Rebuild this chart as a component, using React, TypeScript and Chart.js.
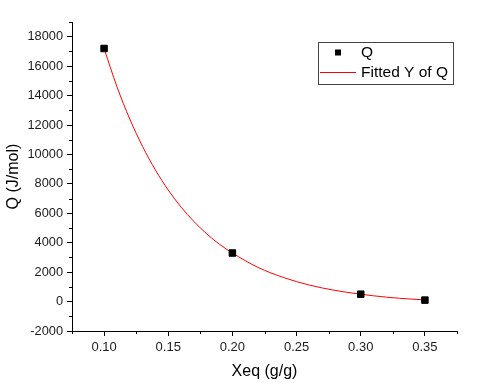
import React, { useEffect, useRef } from "react";
import { Chart, registerables } from "chart.js";

Chart.register(...registerables);

// Measured data points
const xeq = [0.1, 0.2, 0.3, 0.35];
const qValues = [17200, 3300, 500, 100];

// Fitted curve
const fitX = [0.1, 0.11, 0.12, 0.13, 0.14, 0.15, 0.16, 0.17, 0.18, 0.19, 0.2, 0.22, 0.24, 0.26, 0.28, 0.3, 0.32, 0.34, 0.35];
const fitY = [17200, 14610, 12410, 10540, 8940, 7580, 6420, 5440, 4600, 3890, 3300, 2320, 1630, 1120, 760, 500, 300, 165, 113];

// Tick values
const xTicks = [0.1, 0.15, 0.2, 0.25, 0.3, 0.35];
const yTicks = [-2000, 0, 2000, 4000, 6000, 8000, 10000, 12000, 14000, 16000, 18000];
const xMinor = [0.075, 0.125, 0.175, 0.225, 0.275, 0.325, 0.375];
const yMinor = [-1000, 1000, 3000, 5000, 7000, 9000, 11000, 13000, 15000, 17000, 19000];

const xTitle = "Xeq (g/g)";
const yTitle = "Q (J/mol)";
const legendLabels = ["Q", "Fitted Y of Q"];

const FONT = "'Liberation Sans', Arial, sans-serif";

const minorTicks = {
  id: "minorTicks",
  afterDraw(chart: any) {
    const ctx = chart.ctx;
    const xs = chart.scales.x;
    const ys = chart.scales.y;
    ctx.save();
    ctx.strokeStyle = "#000";
    ctx.lineWidth = 1;
    ctx.beginPath();
    for (const v of xMinor) {
      const px = Math.round(xs.getPixelForValue(v)) + 0.5;
      ctx.moveTo(px, ys.bottom);
      ctx.lineTo(px, ys.bottom + 3);
    }
    for (const v of yMinor) {
      const py = Math.round(ys.getPixelForValue(v)) + 0.5;
      ctx.moveTo(xs.left, py);
      ctx.lineTo(xs.left - 3, py);
    }
    ctx.stroke();
    ctx.restore();
  },
};

const customLegend = {
  id: "customLegend",
  afterDraw(chart: any) {
    const ctx = chart.ctx;
    ctx.save();
    const bx = 318, by = 42, bw = 135, bh = 42;
    ctx.fillStyle = "#fff";
    ctx.fillRect(bx, by, bw, bh);
    ctx.strokeStyle = "#444";
    ctx.lineWidth = 1;
    ctx.strokeRect(bx + 0.5, by + 0.5, bw, bh);
    ctx.fillStyle = "#000";
    ctx.fillRect(335, 49.5, 6, 6);
    ctx.strokeStyle = "#ff0000";
    ctx.beginPath();
    ctx.moveTo(320, 72.5);
    ctx.lineTo(356, 72.5);
    ctx.stroke();
    ctx.fillStyle = "#000";
    ctx.font = `15.5px ${FONT}`;
    ctx.textBaseline = "middle";
    ctx.textAlign = "left";
    ctx.fillText(legendLabels[0], 361, 53);
    ctx.fillText(legendLabels[1], 361, 73);
    ctx.restore();
  },
};

export default function App() {
  const ref = useRef<HTMLCanvasElement>(null);
  useEffect(() => {
    document.body.style.margin = "0";
    const chart = new Chart(ref.current!, {
      type: "scatter",
      data: {
        datasets: [
          {
            label: legendLabels[1],
            data: fitX.map((x, i) => ({ x, y: fitY[i] })),
            showLine: true,
            borderColor: "#ff0000",
            borderWidth: 1,
            pointRadius: 0,
            cubicInterpolationMode: "monotone",
            order: 2,
          },
          {
            label: legendLabels[0],
            data: xeq.map((x, i) => ({ x, y: qValues[i] })),
            pointStyle: "rect",
            pointRadius: 4.6,
            backgroundColor: "#000",
            borderColor: "#000",
            borderWidth: 1,
            order: 1,
          },
        ],
      },
      options: {
        responsive: false,
        animation: false,
        layout: { padding: { top: 22, right: 23, left: 0, bottom: 0 } },
        plugins: { legend: { display: false }, tooltip: { enabled: false } },
        scales: {
          x: {
            type: "linear",
            min: 0.075,
            max: 0.375,
            afterBuildTicks: (s: any) => { s.ticks = xTicks.map((value) => ({ value })); },
            afterFit: (s: any) => { s.height = 56; },
            ticks: {
              autoSkip: false,
              padding: 4,
              color: "#1c1c1c",
              font: { family: FONT, size: 13 },
              callback: (v: any) => Number(v).toFixed(2),
              maxRotation: 0,
            },
            grid: { display: true, drawOnChartArea: false, drawTicks: true, tickLength: 5, tickColor: "#000" },
            border: { display: true, color: "#000", width: 1 },
            title: { display: true, text: xTitle, color: "#000", font: { family: FONT, size: 16 }, padding: { top: 0, bottom: 5.5 } },
          },
          y: {
            type: "linear",
            min: -2000,
            max: 19000,
            afterBuildTicks: (s: any) => { s.ticks = yTicks.map((value) => ({ value })); },
            afterFit: (s: any) => { s.width = 72; },
            ticks: {
              autoSkip: false,
              padding: 4,
              color: "#1c1c1c",
              font: { family: FONT, size: 12.8 },
              callback: (v: any) => String(v),
            },
            grid: { display: true, drawOnChartArea: false, drawTicks: true, tickLength: 5, tickColor: "#000" },
            border: { display: true, color: "#000", width: 1 },
            title: { display: true, text: yTitle, color: "#000", font: { family: FONT, size: 16 }, padding: { top: 4, bottom: 0 } },
          },
        },
      },
      plugins: [minorTicks, customLegend],
    } as any);
    return () => chart.destroy();
  }, []);
  return (
    <div style={{ position: "absolute", left: 0, top: 0, width: 480, height: 387, background: "#fff" }}>
      <canvas ref={ref} width={480} height={387} />
    </div>
  );
}
